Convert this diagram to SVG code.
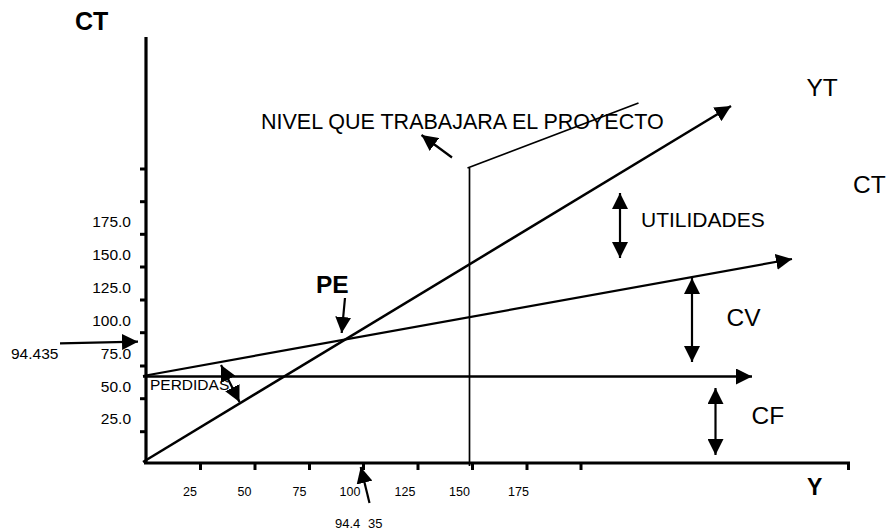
<svg xmlns="http://www.w3.org/2000/svg" width="890" height="531" viewBox="0 0 890 531">
<style>
text{font-family:"Liberation Sans",Arial,sans-serif;fill:#000}
.ax{stroke:#000;stroke-width:3.2;fill:none}
.tk{stroke:#000;stroke-width:3;fill:none}
.ln{stroke:#000;stroke-width:2.2;fill:none}
.th{stroke:#000;stroke-width:1.7;fill:none}
.ar{stroke:#000;stroke-width:2.2;fill:none;marker-end:url(#ah)}
.dar{stroke:#000;stroke-width:2.2;fill:none;marker-start:url(#ah);marker-end:url(#ah)}
.yl{font-size:15.5px;text-anchor:end}
.xl{font-size:12.5px;text-anchor:middle}
.big{font-size:24.5px}
.bold{font-weight:bold}
</style>
<defs>
<marker id="ah" markerUnits="userSpaceOnUse" markerWidth="16" markerHeight="16" viewBox="0 0 16 16" refX="16" refY="8" orient="auto-start-reverse">
<path d="M0,0 L16,8 L0,16 z" fill="#000"/>
</marker>
</defs>
<g id="axes">
<line class="ax" x1="146" y1="37" x2="146" y2="464"/>
<line class="ax" x1="144" y1="463" x2="850" y2="463"/>
<g id="yticks">
<line class="tk" x1="140" y1="169" x2="146" y2="169"/>
<line class="tk" x1="140" y1="201.7" x2="146" y2="201.7"/>
<line class="tk" x1="140" y1="234.3" x2="146" y2="234.3"/>
<line class="tk" x1="140" y1="267" x2="146" y2="267"/>
<line class="tk" x1="140" y1="300" x2="146" y2="300"/>
<line class="tk" x1="140" y1="332.7" x2="146" y2="332.7"/>
<line class="tk" x1="140" y1="366" x2="146" y2="366"/>
<line class="tk" x1="140" y1="398.7" x2="146" y2="398.7"/>
<line class="tk" x1="140" y1="431.7" x2="146" y2="431.7"/>
</g>
<g id="xticks">
<line class="tk" x1="200.5" y1="463" x2="200.5" y2="470"/>
<line class="tk" x1="255" y1="463" x2="255" y2="470"/>
<line class="tk" x1="309.5" y1="463" x2="309.5" y2="470"/>
<line class="tk" x1="363.5" y1="463" x2="363.5" y2="470"/>
<line class="tk" x1="418" y1="463" x2="418" y2="470"/>
<line class="tk" x1="472.5" y1="463" x2="472.5" y2="470"/>
<line class="tk" x1="527" y1="463" x2="527" y2="470"/>
<line class="tk" x1="581" y1="463" x2="581" y2="470"/>
<line class="tk" x1="848.5" y1="463" x2="848.5" y2="470"/>
</g>
</g>
<g id="axis-labels">
<text class="bold" x="75" y="30" font-size="25">CT</text>
<text class="bold" x="807" y="495" font-size="23">Y</text>
<text class="yl" x="131" y="227">175.0</text>
<text class="yl" x="131" y="260">150.0</text>
<text class="yl" x="131" y="293">125.0</text>
<text class="yl" x="131" y="326">100.0</text>
<text class="yl" x="131" y="359">75.0</text>
<text class="yl" x="131" y="392">50.0</text>
<text class="yl" x="131" y="424">25.0</text>
<text class="xl" x="190" y="496">25</text>
<text class="xl" x="244.5" y="496">50</text>
<text class="xl" x="299.5" y="496">75</text>
<text class="xl" x="350" y="496">100</text>
<text class="xl" x="405" y="496">125</text>
<text class="xl" x="459.5" y="496">150</text>
<text class="xl" x="518.5" y="496">175</text>
</g>
<g id="connectors">
<line id="yt-line" class="ar" x1="143" y1="462" x2="731" y2="106" style="stroke-width:2.5"/>
<line id="ct-line" class="ar" x1="143" y1="376" x2="792" y2="259"/>
<line id="cf-line" class="ar" x1="143" y1="376.5" x2="752" y2="376.5" style="stroke-width:2.4"/>
<line id="level-line" class="th" x1="469.5" y1="168" x2="469.5" y2="466"/>
<line id="level-slant" class="th" x1="467.5" y1="168" x2="638.5" y2="103"/>
<line id="level-arrow" class="ar" x1="452" y1="157.5" x2="421.5" y2="135"/>
<line id="pe-arrow" class="ar" x1="345" y1="298" x2="341.7" y2="333"/>
<line id="y-arrow" class="ar" x1="60" y1="343.3" x2="138" y2="341.7"/>
<line id="x-arrow" class="ar" x1="369.5" y1="503" x2="360.7" y2="467"/>
<line id="utilidades-arrow" class="dar" x1="620" y1="193" x2="620" y2="258"/>
<line id="cv-arrow" class="dar" x1="692" y1="278" x2="692" y2="362"/>
<line id="cf-arrow" class="dar" x1="715.5" y1="388" x2="715.5" y2="455"/>
<line id="perdidas-arrow" class="dar" x1="221" y1="365" x2="239.5" y2="402"/>
</g>
<g id="labels">
<text x="261" y="129.3" font-size="21.5">NIVEL QUE TRABAJARA EL PROYECTO</text>
<text class="big" x="806.5" y="96">YT</text>
<text class="big" x="853" y="193.3" font-size="25">CT</text>
<text x="641" y="226.7" font-size="21">UTILIDADES</text>
<text class="big" x="726.5" y="325.7">CV</text>
<text class="big" x="751.5" y="424">CF</text>
<text class="bold" x="316" y="293" font-size="24.5">PE</text>
<text x="150" y="390" font-size="15.5">PERDIDAS</text>
<text x="11" y="359" font-size="15.5">94.435</text>
<text x="335" y="528" font-size="13" word-spacing="4">94.4 35</text>
</g>
</svg>
